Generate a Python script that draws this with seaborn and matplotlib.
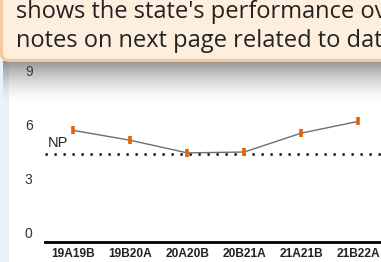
import numpy as np
import pandas as pd
import matplotlib
matplotlib.use("Agg")
import matplotlib.pyplot as plt
import seaborn as sns
from matplotlib.patches import FancyBboxPatch, Rectangle

# --- data ---
periods = ["19A19B", "19B20A", "20A20B", "20B21A", "21A21B", "21B22A"]
values = [5.7, 5.15, 4.45, 4.5, 5.55, 6.2]
np_level = 4.4
y_ticks = [0, 3, 6, 9]

tooltip_lines = ["shows the state's performance ov",
                 "notes on next page related to dat"]

W, H = 381, 262
sns.set_theme(style="white")
plt.rcParams["font.family"] = ["Liberation Sans", "DejaVu Sans"]

fig = plt.figure(figsize=(W / 100, H / 100), dpi=100)
fig.patch.set_facecolor("white")

# left light-blue strip of the page
fig.patches.append(Rectangle((0, 0), 9 / W, 1, transform=fig.transFigure,
                             facecolor="#eaf2f9", edgecolor="none", zorder=0))

ax = fig.add_axes([45 / W, 1 - 242 / H, 1 - 45 / W, (242 - 62) / H])
ax.set_facecolor("none")
df = pd.DataFrame({"period": periods, "value": values})
sns.lineplot(data=df, x="period", y="value", ax=ax, color="#6e6e6e",
             linewidth=1.0, marker="|", markersize=6, markeredgewidth=2.6,
             markeredgecolor="#e36209", markerfacecolor="#e36209")

ax.axhline(np_level, color="black", linewidth=1.8, dashes=(0.9, 2.7), zorder=1)
ax.text(3 / (W - 45), np_level + 0.2, "NP", transform=ax.get_yaxis_transform(),
        fontsize=10.5, color="#222222", va="bottom", ha="left")

ax.set_xlim(-0.5, 5.4)
ax.set_ylim(-0.5, 9.5)
ax.set_yticks(y_ticks)
ax.set_xlabel("")
ax.set_ylabel("")
ax.tick_params(axis="y", length=0, pad=9, labelsize=10, labelcolor="#333333")
ax.tick_params(axis="x", length=0, pad=4, labelsize=8.6, labelcolor="#222222")
for lbl in ax.get_xticklabels():
    lbl.set_fontweight("bold")
for s in ["left", "right", "top"]:
    ax.spines[s].set_visible(False)
ax.spines["bottom"].set_color("black")
ax.spines["bottom"].set_linewidth(2.0)
ax.grid(False)

# overlay: tooltip box with shadow below it
ov = fig.add_axes([0, 0, 1, 1], zorder=10)
ov.set_xlim(0, W)
ov.set_ylim(H, 0)
ov.axis("off")
ov.patch.set_alpha(0)

grad = np.zeros((60, 2, 4))
alpha = np.linspace(1.0, 0.0, 60) ** 1.6 * 0.62
grad[:, :, 0:3] = 0.33
grad[:, :, 3] = alpha[:, None]
ov.imshow(grad, extent=(3, W, 104, 61), aspect="auto", zorder=1,
          interpolation="bilinear")

box = FancyBboxPatch((1.5, -30), W + 20, 90.5,
                     boxstyle="round,pad=0,rounding_size=8",
                     facecolor="#fdeedd", edgecolor="#f6c89c",
                     linewidth=2.2, zorder=2)
ov.add_patch(box)
for i, line in enumerate(tooltip_lines):
    ov.text(16, 18.3 + 28.5 * i, line, fontsize=17, color="#222222",
            family=["Open Sans", "DejaVu Sans"], va="baseline", ha="left",
            zorder=3)

fig.savefig("out.png", dpi=100)
